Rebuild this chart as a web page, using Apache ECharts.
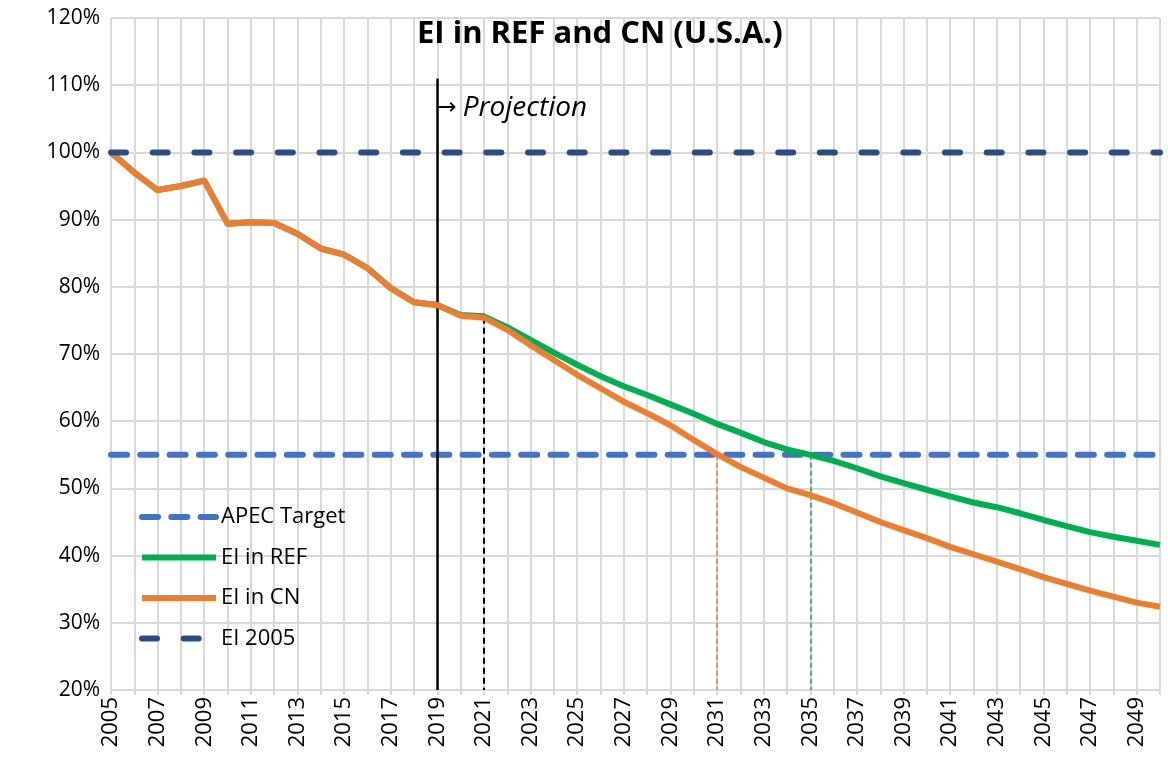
<!DOCTYPE html>
<html>
<head>
<meta charset="utf-8">
<title>EI in REF and CN (U.S.A.)</title>
<script src="https://cdn.jsdelivr.net/npm/echarts@6/dist/echarts.min.js"></script>
<style>
  html, body { margin: 0; padding: 0; background: #fff; }
  #chart { width: 1168px; height: 760px; }
</style>
</head>
<body>
<div id="chart"></div>
<script>
// years 2005..2050
var years = ['2005','2006','2007','2008','2009','2010','2011','2012','2013','2014',
  '2015','2016','2017','2018','2019','2020','2021','2022','2023','2024',
  '2025','2026','2027','2028','2029','2030','2031','2032','2033','2034',
  '2035','2036','2037','2038','2039','2040','2041','2042','2043','2044',
  '2045','2046','2047','2048','2049','2050'];

// energy intensity, % of 2005
var eiRef = [100, 97.0, 94.4, 95.0, 95.8, 89.4, 89.6, 89.5, 87.9, 85.7,
  84.8, 82.8, 79.8, 77.7, 77.3, 75.8, 75.6, 74.0, 72.1, 70.2,
  68.4, 66.7, 65.2, 63.9, 62.5, 61.1, 59.6, 58.3, 56.9, 55.8,
  55.0, 54.1, 53.0, 51.8, 50.8, 49.8, 48.8, 47.9, 47.2, 46.3,
  45.3, 44.4, 43.5, 42.8, 42.2, 41.6];
var eiCn = [100, 97.0, 94.4, 95.0, 95.8, 89.4, 89.6, 89.5, 87.9, 85.7,
  84.8, 82.8, 79.8, 77.7, 77.3, 75.7, 75.4, 73.6, 71.3, 69.1,
  66.9, 64.9, 62.9, 61.2, 59.4, 57.2, 55.1, 53.2, 51.6, 50.0,
  49.0, 47.8, 46.4, 45.0, 43.8, 42.6, 41.3, 40.2, 39.1, 38.0,
  36.8, 35.8, 34.8, 33.9, 33.0, 32.4];

var apecTarget = 55;
var ei2005 = 100;
var projectionYear = '2019';
var projectionTop = 111;
var divergeYear = '2021';
var cnHitYear = '2031';
var refHitYear = '2035';
var yTicks = { min: 20, max: 120, step: 10 };

var FONT = 'Open Sans';
var chart = echarts.init(document.getElementById('chart'));

var option = {
  backgroundColor: '#fff',
  textStyle: { fontFamily: FONT },
  title: {
    text: 'EI in REF and CN (U.S.A.)',
    left: 412,
    top: 14,
    textStyle: { fontFamily: FONT, fontSize: 31, fontWeight: 'bold', color: '#000' }
  },
  legend: {
    orient: 'vertical',
    left: 134,
    top: 501,
    itemWidth: 74,
    itemHeight: 20,
    itemGap: 18.5,
    textStyle: { fontFamily: FONT, fontSize: 22, color: '#000' },
    itemStyle: { opacity: 0 },
    lineStyle: { width: 6 },
    data: ['APEC Target', 'EI in REF', 'EI in CN', 'EI 2005']
  },
  grid: { left: 111, right: 8, top: 18, bottom: 70, containLabel: false, outerBoundsMode: 'none' },
  xAxis: {
    type: 'category',
    data: years,
    boundaryGap: false,
    axisLine: { lineStyle: { color: '#D9D9D9', width: 2 } },
    axisTick: { show: true, interval: 0, length: 5, lineStyle: { color: '#D9D9D9', width: 2 } },
    axisLabel: { interval: 1, rotate: 90, fontSize: 22, color: '#000', margin: 7, fontFamily: FONT },
    splitLine: { show: true, interval: 0, lineStyle: { color: '#D9D9D9', width: 2 } }
  },
  yAxis: {
    type: 'value',
    min: yTicks.min,
    max: yTicks.max,
    interval: yTicks.step,
    axisLine: { show: false },
    axisTick: { show: false },
    axisLabel: { formatter: '{value}%', fontSize: 21, color: '#000', margin: 11, fontFamily: FONT },
    splitLine: { lineStyle: { color: '#D9D9D9', width: 2 } }
  },
  series: [
    {
      name: 'APEC Target',
      type: 'line',
      data: [[years[0], apecTarget], [years[years.length - 1], apecTarget]],
      symbol: 'none',
      z: 3,
      lineStyle: { color: '#4472C4', width: 6, type: [16, 13.3], cap: 'round' },
      itemStyle: { color: '#4472C4' }
    },
    {
      name: 'EI in REF',
      type: 'line',
      data: eiRef,
      symbol: 'none',
      z: 4,
      lineStyle: { color: '#00B050', width: 6, join: 'round' },
      itemStyle: { color: '#00B050' },
      markLine: {
        silent: true,
        symbol: 'none',
        label: { show: false },
        data: [
          [{ coord: [refHitYear, apecTarget] }, { coord: [refHitYear, yTicks.min] }]
        ],
        lineStyle: { color: '#00B050', width: 1.5, type: [5, 3] }
      }
    },
    {
      name: 'EI in CN',
      type: 'line',
      data: eiCn,
      symbol: 'none',
      z: 5,
      lineStyle: { color: '#ED7D31', width: 6, join: 'round' },
      itemStyle: { color: '#ED7D31' },
      markLine: {
        silent: true,
        symbol: 'none',
        label: { show: false },
        data: [
          [{ coord: [cnHitYear, apecTarget] }, { coord: [cnHitYear, yTicks.min] }]
        ],
        lineStyle: { color: '#ED7D31', width: 1.5, type: [5, 3] }
      }
    },
    {
      name: 'EI 2005',
      type: 'line',
      data: [[years[0], ei2005], [years[years.length - 1], ei2005]],
      symbol: 'none',
      z: 6,
      lineStyle: { color: '#2F4C82', width: 6, type: [15, 26.7], cap: 'round' },
      itemStyle: { color: '#2F4C82' },
      markLine: {
        silent: true,
        symbol: 'none',
        label: { show: false },
        data: [
          [{ coord: [projectionYear, projectionTop], lineStyle: { color: '#000', width: 2.5, type: 'solid' } },
           { coord: [projectionYear, yTicks.min] }],
          [{ coord: [divergeYear, eiCn[years.indexOf(divergeYear)]], lineStyle: { color: '#000', width: 2, type: [6, 4] } },
           { coord: [divergeYear, yTicks.min] }]
        ]
      },
      markPoint: {
        silent: true,
        symbol: 'circle',
        symbolSize: 0,
        data: [{ coord: [projectionYear, 106.6] }],
        label: {
          show: true,
          position: 'right',
          distance: 0,
          formatter: '{a|→}{b|Projection}',
          rich: {
            a: { fontFamily: 'DejaVu Sans', fontSize: 23, color: '#000', padding: [0, 6, 0, 0] },
            b: { fontFamily: FONT, fontSize: 28, fontStyle: 'italic', color: '#000' }
          }
        }
      }
    }
  ]
};

chart.setOption(option);
</script>
</body>
</html>
